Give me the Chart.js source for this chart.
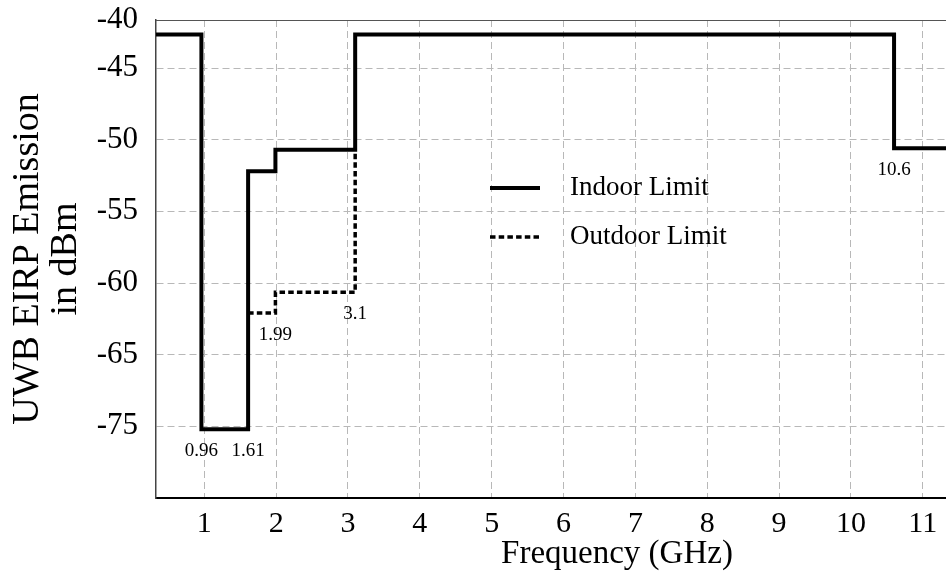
<!DOCTYPE html>
<html>
<head>
<meta charset="utf-8">
<script src="https://cdn.jsdelivr.net/npm/chart.js@4.4.1/dist/chart.umd.min.js"></script>
<style>
  html, body { margin: 0; padding: 0; background: #fff; overflow: hidden; }
  #wrap { width: 946px; height: 582px; overflow: hidden; position: relative; }
  canvas { display: block; }
</style>
</head>
<body>
<div id="wrap"><canvas id="chart" width="1100" height="582"></canvas></div>
<script>
// Emission mask: each frequency (GHz) starts a band whose EIRP limit (dBm) holds until the next one
const indoorFreq   = [0, 0.96, 1.61, 1.99, 3.1, 10.6, 14];
const indoorLevel  = [-41.5, -75.4, -52.2, -50.7, -41.5, -50.6, -50.6];
const outdoorFreq  = [1.61, 1.99, 3.1];
const outdoorLevel = [-62.1, -60.65, -50.7];

// Axis ticks
const freqTicks  = [1, 2, 3, 4, 5, 6, 7, 8, 9, 10, 11];
const levelTicks = [-75, -65, -60, -55, -50, -45, -40];

// Band edges written under the curve, and the level each label hangs under
const edgeFreq  = [0.96, 1.61, 1.99, 3.1, 10.6];
const edgeLevel = [-75.4, -75.4, -62.1, -60.65, -50.6];

const SERIF = "'Liberation Serif', 'Times New Roman', serif";

// Linear scale with uneven spacing between its break values
class SegmentedScale extends Chart.LinearScale {
  buildTicks() {
    return levelTicks.map(v => ({ value: v }));
  }
  _segments() {
    const b = this.options.breaks;
    return { vals: b.values, pos: b.positions };
  }
  _toDecimal(value) {
    const { vals, pos } = this._segments();
    const total = pos[pos.length - 1];
    if (value <= vals[0]) return pos[0] / total;
    for (let i = 1; i < vals.length; i++) {
      if (value <= vals[i]) {
        const t = (value - vals[i - 1]) / (vals[i] - vals[i - 1]);
        return (pos[i - 1] + t * (pos[i] - pos[i - 1])) / total;
      }
    }
    return 1;
  }
  getPixelForValue(value) {
    return this.getPixelForDecimal(this._toDecimal(value));
  }
  getValueForPixel(pixel) {
    const { vals, pos } = this._segments();
    const p = this.getDecimalForPixel(pixel) * pos[pos.length - 1];
    for (let i = 1; i < pos.length; i++) {
      if (p <= pos[i]) {
        const t = (p - pos[i - 1]) / (pos[i] - pos[i - 1]);
        return vals[i - 1] + t * (vals[i] - vals[i - 1]);
      }
    }
    return vals[vals.length - 1];
  }
}
SegmentedScale.id = 'segmented';
SegmentedScale.defaults = Chart.LinearScale.defaults;
Chart.register(SegmentedScale);

// Frame line along the top of the plot
const topFrame = {
  id: 'topFrame',
  beforeDatasetsDraw(chart) {
    const { ctx, chartArea: a } = chart;
    ctx.save();
    ctx.strokeStyle = '#555';
    ctx.lineWidth = 1;
    ctx.beginPath();
    ctx.moveTo(a.left, a.top + 0.5);
    ctx.lineTo(a.right, a.top + 0.5);
    ctx.stroke();
    ctx.restore();
  }
};

// Legend drawn inside the plot area
const inlineLegend = {
  id: 'inlineLegend',
  afterDatasetsDraw(chart, args, opts) {
    const { ctx, chartArea: a } = chart;
    chart.data.datasets.forEach((ds, i) => {
      const y = a.top + opts.top + i * opts.rowGap;
      const x0 = a.left + opts.left;
      ctx.save();
      ctx.strokeStyle = ds.borderColor;
      ctx.lineWidth = ds.borderWidth;
      ctx.setLineDash(ds.borderDash || []);
      ctx.beginPath();
      ctx.moveTo(x0, y);
      ctx.lineTo(x0 + opts.sample, y);
      ctx.stroke();
      ctx.setLineDash([]);
      ctx.fillStyle = '#000';
      ctx.font = opts.font;
      ctx.textBaseline = 'middle';
      ctx.textAlign = 'left';
      ctx.fillText(ds.label, x0 + opts.sample + opts.gap, y);
      ctx.restore();
    });
  }
};

// Frequency values printed under the band edges
const edgeLabels = {
  id: 'edgeLabels',
  afterDatasetsDraw(chart, args, opts) {
    const { ctx } = chart;
    const xs = chart.scales.x, ys = chart.scales.y;
    ctx.save();
    ctx.fillStyle = '#000';
    ctx.font = opts.font;
    ctx.textAlign = 'center';
    ctx.textBaseline = 'middle';
    edgeFreq.forEach((f, i) => {
      ctx.fillText(String(f), xs.getPixelForValue(f), ys.getPixelForValue(edgeLevel[i]) + opts.offset);
    });
    ctx.restore();
  }
};

const toPoints = (xs, ys) => xs.map((x, i) => ({ x, y: ys[i] }));

new Chart(document.getElementById('chart'), {
  type: 'line',
  data: {
    datasets: [
      {
        label: 'Indoor Limit',
        data: toPoints(indoorFreq, indoorLevel),
        stepped: true,
        borderColor: '#000',
        borderWidth: 4,
        borderJoinStyle: 'miter',
        pointRadius: 0,
        fill: false
      },
      {
        label: 'Outdoor Limit',
        data: toPoints(outdoorFreq, outdoorLevel),
        stepped: true,
        borderColor: '#000',
        borderWidth: 3.5,
        borderDash: [5.5, 3.2],
        pointRadius: 0,
        fill: false
      }
    ]
  },
  options: {
    responsive: false,
    animation: false,
    events: [],
    layout: { padding: { top: 20, left: 0, right: 22, bottom: 0 } },
    plugins: {
      legend: { display: false },
      tooltip: { enabled: false },
      inlineLegend: { left: 334, top: 168, rowGap: 49, sample: 50, gap: 30, font: '27px ' + SERIF },
      edgeLabels: { offset: 22, font: '19px ' + SERIF }
    },
    scales: {
      x: {
        type: 'linear',
        min: 0.328,
        max: 13.16,
        afterBuildTicks: s => { s.ticks = freqTicks.map(v => ({ value: v })); },
        afterFit: s => { s.height = 84; s.paddingLeft = 0; s.paddingRight = 0; },
        ticks: {
          autoSkip: false,
          maxRotation: 0,
          padding: 8,
          color: '#000',
          font: { family: SERIF, size: 30 },
          callback: v => String(v)
        },
        grid: { color: '#b8b8b8', lineWidth: 1, drawTicks: false },
        border: { color: '#000', width: 2, dash: [7, 4] },
        title: {
          display: true,
          text: 'Frequency (GHz)',
          color: '#000',
          font: { family: SERIF, size: 33 },
          padding: { top: 0, bottom: 8 }
        }
      },
      y: {
        type: 'segmented',
        min: -85,
        max: -40,
        breaks: {
          values:    [-85, -75, -65, -60, -55, -50, -45, -40],
          positions: [0, 1, 2, 3, 4, 5, 6, 6.67]
        },
        afterFit: s => { s.width = 156; s.paddingTop = 0; s.paddingBottom = 0; },
        ticks: {
          autoSkip: false,
          padding: 18,
          color: '#000',
          font: { family: SERIF, size: 31 },
          callback: v => String(v)
        },
        grid: {
          color: ctx => (ctx.tick && ctx.tick.value === -40 ? 'rgba(0,0,0,0)' : '#b8b8b8'),
          lineWidth: 1,
          drawTicks: false
        },
        border: { color: '#444', width: 1.5, dash: [7, 4] },
        title: {
          display: true,
          text: ['UWB EIRP Emission', 'in dBm'],
          color: '#000',
          font: { family: SERIF, size: 38, lineHeight: 38 / 38 },
          padding: { top: 9, bottom: 0 }
        }
      }
    }
  },
  plugins: [topFrame, inlineLegend, edgeLabels]
});
</script>
</body>
</html>
